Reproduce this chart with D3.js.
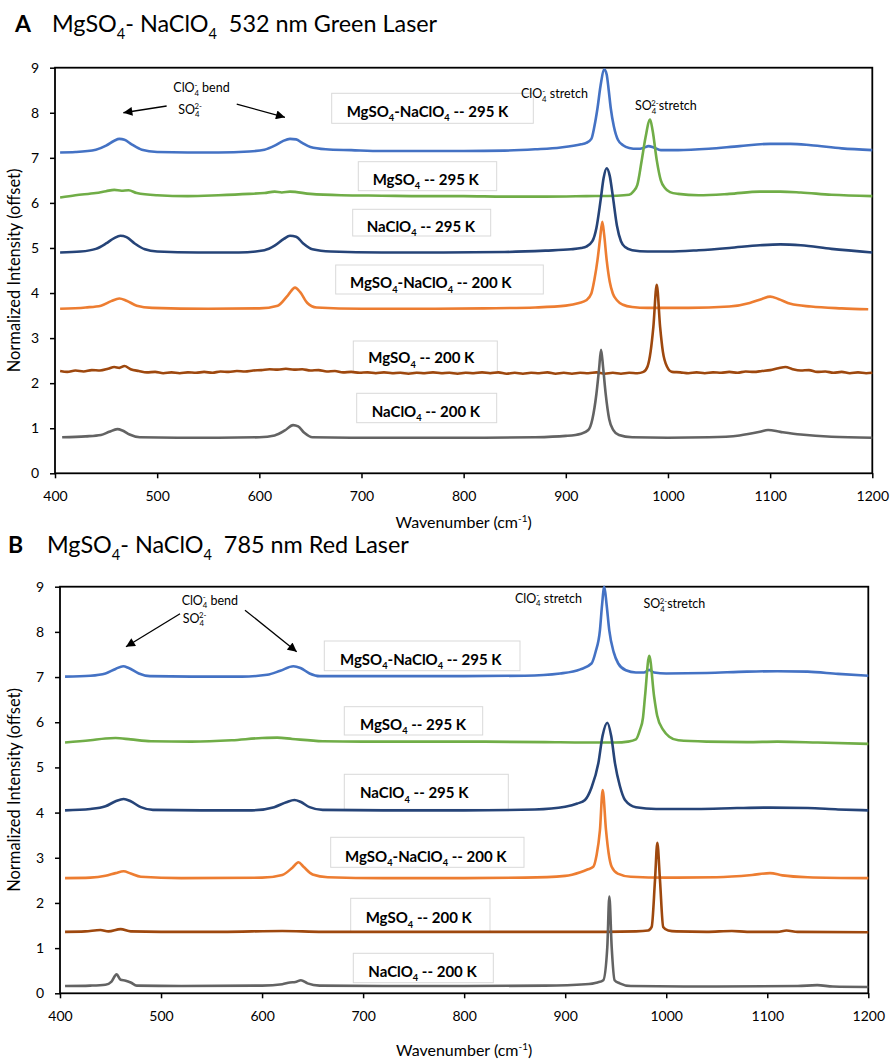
<!DOCTYPE html>
<html><head><meta charset="utf-8">
<script src="https://cdn.jsdelivr.net/npm/d3@7"></script>
<style>
html,body{margin:0;padding:0;background:#fff;}
svg{display:block;font-family:Lato,"Open Sans",sans-serif;}
text{white-space:pre;}
</style></head>
<body>
<svg id="chart" width="891" height="1061"></svg>
<script>
// ---------- DATA ----------
const xTicks = [400,500,600,700,800,900,1000,1100,1200];
const yTicks = [0,1,2,3,4,5,6,7,8,9];
const seriesNames = ["MgSO4-NaClO4 -- 295 K","MgSO4 -- 295 K","NaClO4 -- 295 K","MgSO4-NaClO4 -- 200 K","MgSO4 -- 200 K","NaClO4 -- 200 K"];
const seriesColors = ["#4472C4","#70AD47","#264478","#ED7D31","#9E480E","#636363"];

// Panel A: 532 nm green laser, [wavenumber, offset intensity]
const A_mix295 = [[405,7.12],[420,7.13],[440,7.18],[450,7.27],[458,7.38],[463,7.42],[468,7.4],[475,7.3],[485,7.18],[500,7.13],[530,7.12],[560,7.12],[590,7.14],[605,7.18],[615,7.27],[623,7.37],[630,7.42],[636,7.41],[642,7.33],[650,7.24],[665,7.19],[690,7.17],[720,7.15],[760,7.15],[800,7.15],[840,7.16],[870,7.19],[895,7.23],[915,7.3],[920,7.33],[925,7.42],[928,7.7],[931,8.1],[934,8.6],[937.7,8.96],[940,8.85],[942,8.5],[944,8.1],[947,7.7],[951,7.4],[956,7.28],[962,7.22],[970,7.2],[976,7.22],[981,7.26],[986,7.23],[993,7.17],[1010,7.17],[1040,7.2],[1070,7.26],[1100,7.31],[1120,7.31],[1140,7.28],[1170,7.21],[1200,7.17]];
const A_mg295 = [[405,6.12],[420,6.17],[440,6.22],[450,6.26],[458,6.29],[465,6.27],[472,6.28],[480,6.22],[500,6.17],[530,6.15],[560,6.17],[590,6.2],[605,6.22],[615,6.25],[622,6.23],[630,6.25],[650,6.2],[680,6.17],[720,6.16],[760,6.15],[800,6.15],[840,6.14],[880,6.14],[920,6.15],[950,6.16],[962,6.18],[966,6.25],[970,6.4],[974,6.9],[978,7.45],[982.5,7.85],[985,7.6],[989,6.95],[993,6.5],[997,6.33],[1002,6.24],[1010,6.2],[1030,6.17],[1060,6.2],[1090,6.25],[1110,6.25],[1130,6.23],[1160,6.18],[1200,6.15]];
const A_na295 = [[405,4.9],[425,4.92],[440,4.98],[450,5.1],[458,5.22],[464,5.27],[470,5.24],[478,5.1],[488,4.97],[500,4.92],[540,4.9],[580,4.9],[605,4.95],[615,5.05],[624,5.2],[630,5.27],[636,5.25],[643,5.1],[652,4.97],[670,4.92],[720,4.9],[780,4.9],[840,4.91],[880,4.94],[905,4.97],[915,5.0],[920,5.03],[926,5.15],[930,5.45],[934,6.05],[937,6.55],[940,6.77],[943,6.6],[946,6.15],[950,5.5],[954,5.15],[958,5.02],[965,4.95],[980,4.92],[1000,4.92],[1030,4.95],[1060,5.0],[1090,5.06],[1110,5.08],[1130,5.06],[1160,4.98],[1200,4.9]];
const A_mix200 = [[405,3.65],[430,3.68],[445,3.72],[455,3.82],[463,3.88],[470,3.83],[480,3.72],[495,3.67],[550,3.65],[600,3.66],[618,3.72],[628,3.95],[635,4.12],[640,4.02],[647,3.78],[656,3.68],[700,3.65],[760,3.65],[820,3.66],[870,3.68],[900,3.72],[913,3.78],[920,3.84],[925,3.99],[928,4.3],[931,4.73],[933.5,5.2],[935.7,5.58],[937.5,5.3],[940,4.73],[943,4.25],[946,3.99],[950,3.84],[956,3.74],[965,3.69],[980,3.67],[1020,3.67],[1060,3.7],[1080,3.78],[1092,3.87],[1100,3.92],[1108,3.87],[1120,3.76],[1140,3.7],[1170,3.66],[1196,3.64]];
const A_mg200 = [[405,2.27],[412,2.25],[420,2.28],[428,2.26],[436,2.29],[444,2.28],[452,2.32],[458,2.36],[463,2.34],[468,2.38],[474,2.31],[482,2.27],[490,2.24],[498,2.25],[506,2.22],[514,2.24],[522,2.22],[530,2.24],[538,2.23],[546,2.25],[554,2.23],[562,2.26],[570,2.25],[578,2.27],[586,2.26],[594,2.28],[602,2.29],[610,2.31],[618,2.3],[626,2.32],[634,2.3],[642,2.31],[650,2.28],[658,2.29],[666,2.26],[674,2.27],[682,2.24],[690,2.25],[698,2.23],[706,2.24],[714,2.22],[722,2.24],[730,2.22],[738,2.23],[746,2.21],[754,2.23],[762,2.22],[770,2.24],[778,2.22],[786,2.23],[794,2.21],[802,2.23],[810,2.22],[818,2.24],[826,2.22],[834,2.24],[842,2.21],[850,2.23],[858,2.21],[866,2.23],[874,2.22],[882,2.24],[890,2.21],[898,2.23],[906,2.21],[914,2.23],[922,2.22],[930,2.24],[938,2.21],[946,2.23],[954,2.21],[962,2.23],[970,2.22],[976,2.25],[980,2.37],[983,2.7],[985.7,3.25],[989,4.18],[992.3,3.25],[995,2.7],[999,2.37],[1004,2.25],[1012,2.24],[1020,2.22],[1028,2.24],[1036,2.22],[1044,2.24],[1052,2.23],[1060,2.25],[1068,2.23],[1076,2.26],[1084,2.25],[1092,2.27],[1100,2.29],[1108,2.33],[1115,2.36],[1122,2.31],[1130,2.28],[1138,2.29],[1146,2.25],[1154,2.26],[1162,2.23],[1170,2.25],[1178,2.22],[1186,2.24],[1194,2.22],[1200,2.23]];
const A_na200 = [[407,0.8],[430,0.82],[445,0.85],[453,0.92],[461,0.98],[466,0.95],[473,0.86],[483,0.8],[520,0.79],[560,0.79],[600,0.8],[615,0.84],[625,0.95],[633,1.07],[638,1.04],[644,0.9],[652,0.8],[700,0.79],[760,0.79],[820,0.79],[870,0.8],[900,0.83],[915,0.88],[922,0.96],[926,1.2],[930,1.77],[932.5,2.3],[934.5,2.74],[936.5,2.35],[939,1.77],[942.5,1.2],[946.5,0.96],[952,0.85],[965,0.8],[1000,0.79],[1040,0.8],[1070,0.84],[1090,0.92],[1098,0.96],[1110,0.92],[1130,0.86],[1160,0.81],[1200,0.79]];

// Panel B: 785 nm red laser
const B_mix295 = [[405,7.01],[430,7.03],[445,7.08],[455,7.18],[462.6,7.24],[468,7.2],[478,7.08],[489,7.02],[530,7.01],[580,7.01],[605,7.05],[618,7.14],[631,7.24],[638,7.2],[647,7.08],[657,7.02],[720,7.02],[800,7.02],[860,7.03],[895,7.08],[915,7.17],[926,7.3],[930,7.55],[934.4,8.04],[936.5,8.6],[938.7,9.0],[941,8.6],[943.6,8.04],[948,7.55],[952.5,7.3],[960,7.15],[970,7.1],[978,7.1],[983,7.16],[988,7.1],[1000,7.08],[1040,7.09],[1080,7.12],[1110,7.13],[1140,7.12],[1170,7.07],[1200,7.03]];
const B_mg295 = [[405,5.55],[430,5.6],[445,5.64],[455,5.65],[470,5.62],[490,5.58],[530,5.57],[570,5.6],[600,5.65],[615,5.66],[630,5.63],[660,5.58],[700,5.57],[760,5.57],[820,5.57],[880,5.56],[920,5.55],[950,5.55],[962,5.57],[970,5.62],[974,5.83],[977,6.1],[979,6.57],[983.2,7.47],[988,6.57],[991,6.15],[997,5.83],[1003,5.68],[1012,5.6],[1040,5.57],[1080,5.56],[1110,5.57],[1150,5.55],[1200,5.52]];
const B_na295 = [[405,4.05],[430,4.08],[445,4.14],[455,4.25],[463,4.3],[470,4.25],[480,4.12],[492,4.06],[540,4.05],[590,4.05],[612,4.12],[624,4.23],[632,4.28],[638,4.24],[647,4.12],[660,4.06],[720,4.05],[800,4.05],[870,4.07],[900,4.13],[912,4.2],[919.6,4.28],[926,4.55],[932.8,5.09],[937,5.7],[941.7,5.99],[945.5,5.7],[949.3,5.09],[954,4.6],[959.2,4.28],[970,4.12],[990,4.08],[1030,4.08],[1070,4.1],[1103,4.11],[1140,4.1],[1170,4.07],[1200,4.05]];
const B_mix200 = [[405,2.55],[430,2.56],[445,2.6],[455,2.66],[463,2.7],[470,2.65],[480,2.58],[520,2.55],[600,2.56],[620,2.62],[630,2.78],[636,2.9],[641,2.8],[650,2.63],[665,2.57],[720,2.55],[800,2.55],[860,2.56],[900,2.6],[915,2.68],[922,2.74],[927.8,2.8],[931,3.05],[934.4,3.61],[937.1,4.5],[940.4,3.61],[943,3.1],[946,2.8],[952,2.65],[965,2.58],[1000,2.56],[1050,2.57],[1085,2.62],[1102.7,2.66],[1115,2.61],[1140,2.57],[1200,2.55]];
const B_mg200 = [[405,1.36],[425,1.37],[440,1.4],[448,1.37],[460,1.42],[470,1.37],[500,1.36],[560,1.36],[620,1.38],[660,1.36],[720,1.36],[800,1.36],[880,1.36],[940,1.36],[970,1.37],[982,1.39],[985.6,1.47],[988.9,2.51],[991.2,3.33],[993.8,2.51],[997,1.47],[1002,1.39],[1010,1.37],[1040,1.36],[1065,1.38],[1080,1.36],[1110,1.36],[1119,1.39],[1130,1.36],[1200,1.35]];
const B_na200 = [[405,0.16],[430,0.17],[445,0.19],[451,0.26],[456,0.42],[460,0.3],[465,0.28],[470,0.24],[476,0.17],[520,0.16],[600,0.17],[620,0.2],[627.6,0.24],[633,0.25],[638.5,0.29],[645,0.22],[657,0.17],[720,0.16],[800,0.16],[880,0.17],[920,0.2],[932,0.24],[937.7,0.29],[941.7,1.03],[943.7,2.14],[946,1.03],[948.9,0.29],[954,0.22],[965,0.16],[1050,0.15],[1130,0.16],[1149.5,0.18],[1165,0.15],[1200,0.14]];

// ---------- LAYOUT ----------
const svg = d3.select("#chart");
const panels = [
  { id:"A", title:"532 nm Green Laser", series:[A_mix295,A_mg295,A_na295,A_mix200,A_mg200,A_na200],
    xr:[55,872.3], yr:[473.3,67.7], titleY:32, letterX:15, titleX:52,
    boxes:[[331.7,93.3,533.3,123.3,346.7,116.7],[358.3,161.7,496.7,190.7,372.7,185],[352.7,209.3,490.7,236,366.7,231.7],[335.7,265,543.3,294,350,288.3],[353.3,341,497.3,372,368.3,363.3],[356.7,393.3,496.7,422.7,371.7,416.7]],
    ann:{bend:[515.8,8.46], so:[520.7,7.98], arrows:[[509.3,8.15,466.9,8.0],[577.9,8.19,625.1,7.9]], clo:[856.1,8.32], sos:[967.7,8.06]},
    xlabY:528 },
  { id:"B", title:"785 nm Red Laser", series:[B_mix295,B_mg295,B_na295,B_mix200,B_mg200,B_na200],
    xr:[60,868.3], yr:[993.3,586.7], titleY:553, letterX:8, titleX:47,
    boxes:[[324.3,641,520,670.7,340,665],[344.3,706.7,482.7,735,360,730],[344.3,774.3,508.3,809.3,360,798.3],[330.7,837.3,524,867.3,345,861.7],[350.7,898.3,490,931.7,365.7,923.3],[353.3,953.3,493.3,982.7,368.3,976.7]],
    ann:{bend:[520.4,8.6], so:[521.4,8.2], arrows:[[518.8,8.40,465.3,7.67],[583.1,8.48,634.3,7.56]], clo:[850.3,8.65], sos:[977.5,8.52]},
    xlabY:1056 }
];

svg.append("defs").append("marker").attr("id","arrow").attr("viewBox","0 0 10 10")
  .attr("refX",10).attr("refY",5).attr("markerWidth",11).attr("markerHeight",9)
  .attr("markerUnits","userSpaceOnUse").attr("orient","auto")
  .append("path").attr("d","M0,0L10,5L0,10Z").attr("fill","#000");

// rich text helper: parts = [[text, kind, dx]]
function rich(sel, x, y, parts, size, weight){
  const t = sel.append("text").attr("x",x).attr("y",y).attr("font-size",size)
    .attr("font-weight",weight||"normal").attr("fill","#000");
  let shift = 0;
  parts.forEach(p=>{
    const [s,kind,dx] = p;
    let target = 0, fs = size;
    if(kind==="sub"){ target = size*0.28; fs = size*0.62; }
    else if(kind==="sup"){ target = -size*0.36; fs = size*0.62; }
    const ts = t.append("tspan").text(s).attr("font-size",fs).attr("dy",target-shift);
    if(dx) ts.attr("dx",dx);
    shift = target;
  });
  return t;
}

panels.forEach(P=>{
  const x = d3.scaleLinear().domain([400,1200]).range(P.xr);
  const y = d3.scaleLinear().domain([0,9]).range(P.yr);
  const g = svg.append("g");

  // title
  g.append("text").attr("x",P.letterX).attr("y",P.titleY).attr("font-size",23).attr("font-weight","bold").text(P.id);
  rich(g, P.titleX, P.titleY, [["MgSO"],["4","sub"],["- NaClO"],["4","sub"],["  "+P.title]], 23.4);

  // label boxes
  P.boxes.forEach((b,i)=>{
    g.append("rect").attr("x",b[0]).attr("y",b[1]).attr("width",b[2]-b[0]).attr("height",b[3]-b[1])
      .attr("fill","#fff").attr("stroke","#d9d9d9").attr("stroke-width",1);
    const name = seriesNames[i];
    let parts;
    if(name.startsWith("MgSO4-NaClO4")) parts=[["MgSO"],["4","sub"],["-NaClO"],["4","sub"],[name.slice(12)]];
    else if(name.startsWith("MgSO4")) parts=[["MgSO"],["4","sub"],[name.slice(5)]];
    else parts=[["NaClO"],["4","sub"],[name.slice(6)]];
    rich(g, b[4], b[5], parts, 15, "bold");
  });

  // axes
  g.append("g").attr("transform",`translate(0,${P.yr[0]})`)
    .call(d3.axisBottom(x).tickValues(xTicks).tickSize(5).tickSizeOuter(0).tickPadding(13).tickFormat(d3.format("d")))
    .call(a=>{a.select(".domain").remove(); a.selectAll("line").attr("stroke","#000").attr("stroke-width",1.5);
      a.selectAll("text").attr("font-size",14).attr("font-family","Lato").attr("fill","#000");});
  g.append("g").attr("transform",`translate(${P.xr[0]},0)`)
    .call(d3.axisLeft(y).tickValues(yTicks).tickSize(5).tickSizeOuter(0).tickPadding(11).tickFormat(d3.format("d")))
    .call(a=>{a.select(".domain").remove(); a.selectAll("line").attr("stroke","#000").attr("stroke-width",1.5);
      a.selectAll("text").attr("font-size",14).attr("font-family","Lato").attr("fill","#000");});
  g.append("rect").attr("x",P.xr[0]).attr("y",P.yr[1]).attr("width",P.xr[1]-P.xr[0]).attr("height",P.yr[0]-P.yr[1])
    .attr("fill","none").attr("stroke","#000").attr("stroke-width",1.8);

  // spectra
  const line = d3.line().x(d=>x(d[0])).y(d=>y(d[1])).curve(d3.curveMonotoneX);
  P.series.forEach((s,i)=>{
    g.append("path").datum(s).attr("d",line).attr("fill","none")
      .attr("stroke",seriesColors[i]).attr("stroke-width",2.6).attr("stroke-linejoin","round");
  });

  // annotations
  const A = P.ann;
  rich(g, x(A.bend[0]), y(A.bend[1]), [["ClO"],["-","sup"],["4","sub",-3],[" bend"]], 12.5);
  rich(g, x(A.so[0]), y(A.so[1]), [["SO"],["4","sub"],["2-","sup",-5]], 12.5);
  A.arrows.forEach(a=>{
    g.append("line").attr("x1",x(a[0])).attr("y1",y(a[1])).attr("x2",x(a[2])).attr("y2",y(a[3]))
      .attr("stroke","#000").attr("stroke-width",1.3).attr("marker-end","url(#arrow)");
  });
  rich(g, x(A.clo[0]), y(A.clo[1]), [["ClO"],["-","sup"],["4","sub",-3],[" stretch"]], 12.5);
  rich(g, x(A.sos[0]), y(A.sos[1]), [["SO"],["4","sub"],["2-","sup",-5],["stretch"]], 12.5);

  // axis titles
  const cx = (P.xr[0]+P.xr[1])/2;
  const t = rich(g, cx, P.xlabY, [["Wavenumber (cm"],["-1","sup"],[")"]], 16);
  t.attr("text-anchor","middle");
  const cy = (P.yr[0]+P.yr[1])/2;
  g.append("text").attr("transform",`translate(20,${cy}) rotate(-90)`).attr("text-anchor","middle")
    .attr("font-size",16.5).text("Normalized Intensity (offset)");
});
</script>
</body></html>
